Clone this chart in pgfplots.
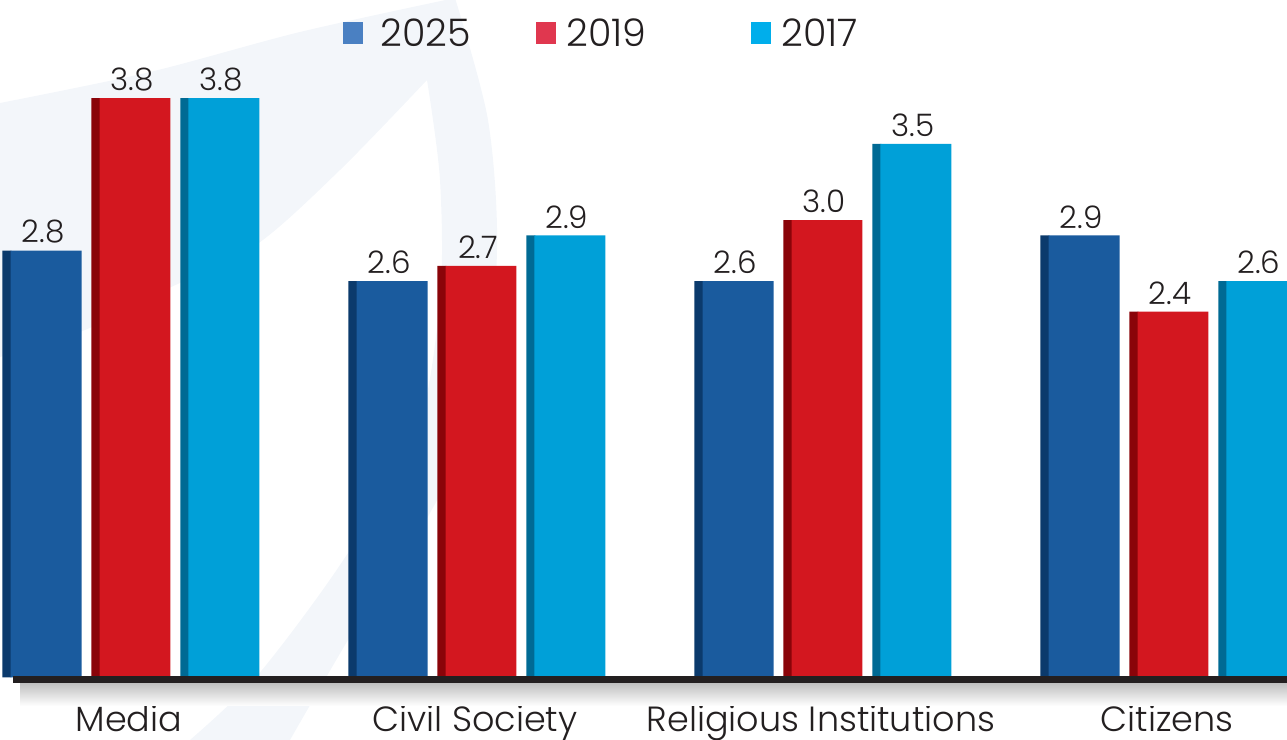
\documentclass[border=0pt]{standalone}
\usepackage{fontspec}
\setmainfont{Poppins Light}
\usepackage{pgfplots}
\usepackage{pgfplotstable}
\pgfplotsset{compat=1.18}

\definecolor{blueF}{HTML}{1A5B9E}
\definecolor{blueS}{HTML}{0B3A6C}
\definecolor{redF}{HTML}{D3171F}
\definecolor{redS}{HTML}{8A0409}
\definecolor{cyanF}{HTML}{00A0D8}
\definecolor{cyanS}{HTML}{006A94}
\definecolor{legB}{HTML}{4A80C2}
\definecolor{legR}{HTML}{E0374F}
\definecolor{legC}{HTML}{00AEEB}
\definecolor{txt}{HTML}{231F20}
\definecolor{swoosh}{HTML}{F3F6FA}

% x: 0 Media, 1 Civil Society, 2 Religious Institutions, 3 Citizens
\pgfplotstableread{
x   y2025 y2019 y2017
0   2.8   3.8   3.8
1   2.6   2.7   2.9
2   2.6   3.0   3.5
3   2.9   2.4   2.6
}\scores

\begin{document}
\begin{tikzpicture}
% faint swoosh behind the chart (pixel coordinates, 1px = 0.5pt)
\begin{scope}[yshift=370pt,x=0.5pt,y=-0.5pt]
  \fill[swoosh]
    plot[smooth] coordinates {(0,103) (150,72) (300,32) (455,-2)}
    -- plot[smooth] coordinates {(455,-2) (488,120) (497,250) (482,400) (430,513) (360,620) (290,740)}
    -- (190,740)
    -- plot[smooth] coordinates {(190,740) (257,676) (340,565) (415,440) (440,300) (440,180) (427,80)}
    -- plot[smooth] coordinates {(427,80) (340,170) (256,245) (165,290) (85,330) (0,357)}
    -- cycle;
\end{scope}

\begin{axis}[
  at={(0,0)}, anchor=south west,
  scale only axis, width=643.5pt, height=370pt,
  xmin=-0.3902, xmax=3.3295,
  ymin=-0.410, ymax=4.443,
  axis line style={draw=none},
  tick style={draw=none},
  ytick=\empty,
  xtick={0,1,2,3},
  xticklabels={Media, Civil Society, Religious Institutions, Citizens},
  xticklabel style={anchor=center, yshift=11pt, xshift=-3pt, text depth=0pt,
    font=\fontsize{17.5}{20}\selectfont, text=txt},
  /pgf/number format/assume math mode=true,
  nodes near coords={\pgfmathprintnumber[fixed,zerofill,precision=1]{\pgfplotspointmeta}},
  every node near coord/.append style={font=\fontsize{15.5}{17}\selectfont,
    text=txt, xshift=-1.5pt},
]
% side faces
\addplot[ybar, bar width=0.026, bar shift=-0.370, fill=blueS, draw=none,
  nodes near coords=] table[x=x, y=y2025] {\scores};
\addplot[ybar, bar width=0.026, bar shift=-0.113, fill=redS, draw=none,
  nodes near coords=] table[x=x, y=y2019] {\scores};
\addplot[ybar, bar width=0.026, bar shift=0.144, fill=cyanS, draw=none,
  nodes near coords=] table[x=x, y=y2017] {\scores};
% front faces
\addplot[ybar, bar width=0.205, bar shift=-0.257, fill=blueF, draw=none,
  every node near coord/.append style={shift={(axis direction cs:-0.257,0)}}]
  table[x=x, y=y2025] {\scores};
\addplot[ybar, bar width=0.205, bar shift=0, fill=redF, draw=none]
  table[x=x, y=y2019] {\scores};
\addplot[ybar, bar width=0.205, bar shift=0.257, fill=cyanF, draw=none,
  every node near coord/.append style={shift={(axis direction cs:0.257,0)}}]
  table[x=x, y=y2017] {\scores};
\end{axis}

\begin{scope}[yshift=370pt,x=0.5pt,y=-0.5pt]
  % base line with shadow
  \shade[top color=black!25, bottom color=white] (20,683) rectangle (1287,706);
  \fill[txt] (13,676) rectangle (1287,683);
  % legend
  \fill[legB] (343,22) rectangle (363,44);
  \fill[legR] (536,22) rectangle (556,44);
  \fill[legC] (751,22) rectangle (771,44);
  \node[anchor=base west, inner sep=0pt, text=txt, font=\fontsize{19}{21}\selectfont] at (380,47) {2025};
  \node[anchor=base west, inner sep=0pt, text=txt, font=\fontsize{19}{21}\selectfont] at (566,47) {2019};
  \node[anchor=base west, inner sep=0pt, text=txt, font=\fontsize{19}{21}\selectfont] at (781,47) {2017};
\end{scope}
\pgfresetboundingbox
\path[use as bounding box] (0,0) rectangle (643.5pt,370pt);
\end{tikzpicture}
\end{document}
